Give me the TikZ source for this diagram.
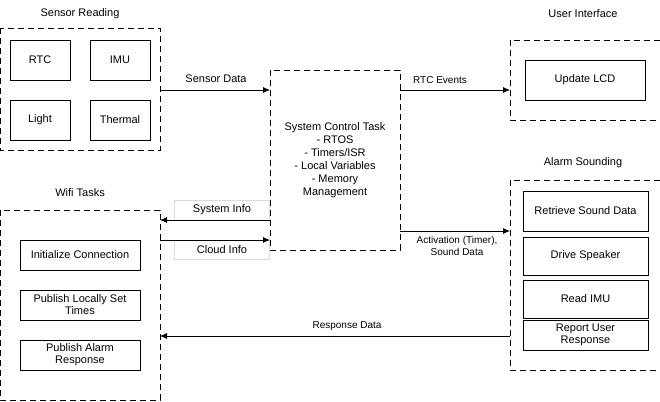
\documentclass[tikz,border=0pt]{standalone}
\usepackage{fontspec}
\setmainfont{Liberation Sans}
\usetikzlibrary{arrows.meta}
\begin{document}
\begin{tikzpicture}[x=1pt,y=-1pt,
  grp/.style={draw,dashed,line width=0.8pt,dash pattern=on 6pt off 4pt},
  box/.style={draw,line width=0.8pt},
  lbl/.style={font=\fontsize{11}{13}\selectfont,align=center},
  sm/.style={font=\fontsize{10}{12}\selectfont,align=center},
  arr/.style={-{Latex[length=7pt,width=6pt]},line width=0.8pt}]
\useasboundingbox (0,0) rectangle (660,401);
% Sensor reading
\node[lbl] (tsr) at (80,14) {Sensor Reading};
\draw[grp] (0,28) rectangle (160,150);
\coordinate (sr) at (160,90);
\node[box,lbl,minimum width=60,minimum height=40] (rtc) at (40,60) {RTC};
\node[box,lbl,minimum width=60,minimum height=40] (imu) at (120,60) {IMU};
\node[box,lbl,minimum width=60,minimum height=40] (light) at (40,120) {Light};
\node[box,lbl,minimum width=60,minimum height=40] (th) at (120,120) {Thermal};
% center
\draw[grp] (270,70) rectangle (400,250);
\node[lbl] (ctl) at (335,160) {System Control Task\\- RTOS\\- Timers/ISR\\- Local Variables\\- Memory\\Management};
% UI
\node[lbl] (tui) at (583,14) {User Interface};
\draw[grp] (510,40) rectangle (660,120);
\node[box,lbl,minimum width=120,minimum height=40] (lcd) at (585,80) {Update LCD};
% Alarm
\node[lbl] (tal) at (583,163) {Alarm Sounding};
\draw[grp] (510,180) rectangle (660,370);
\node[box,lbl,minimum width=125,minimum height=40] (rs) at (585.5,211) {Retrieve Sound Data};
\node[box,lbl,minimum width=125,minimum height=38] (ds) at (585.5,256) {Drive Speaker};
\node[box,lbl,minimum width=125,minimum height=38] (ri) at (585.5,299) {Read IMU};
\node[box,lbl,minimum width=125,minimum height=30,inner sep=1pt] (ru) at (585.5,335) {Report User\\[-1pt]Response};
% Wifi
\node[lbl] (twf) at (80,193) {Wifi Tasks};
\draw[grp] (0,210) rectangle (160,400);
\node[box,lbl,minimum width=120,minimum height=30] (ic) at (80,255) {Initialize Connection};
\node[box,lbl,minimum width=120,minimum height=30,inner sep=1pt] (pl) at (80,305) {Publish Locally Set\\[-1pt]Times};
\node[box,lbl,minimum width=120,minimum height=30,inner sep=1pt] (pa) at (80,355) {Publish Alarm\\[-1pt]Response};
% arrows
\draw[arr] (160,90) -- (270,90);
\node[lbl] (sd) at (216,79) {Sensor Data};
\draw[arr] (400,90) -- (510,90);
\node[sm] (re) at (440,80) {RTC Events};
\node[lbl,draw=black!15,minimum width=95,minimum height=20] (si) at (222,210) {System Info};
\node[lbl,draw=black!15,minimum width=95,minimum height=19] (ci) at (222,249.5) {Cloud Info};
\draw[arr] (270,220) -- (160,220);
\draw[arr] (160,240) -- (270,240);
\draw[arr] (400,231) -- (510,231);
\node[sm] (act) at (457,246) {Activation (Timer),\\Sound Data};
\draw[arr] (510,336) -- (160,336);
\node[sm] (rd) at (347,326) {Response Data};
\end{tikzpicture}
\end{document}
